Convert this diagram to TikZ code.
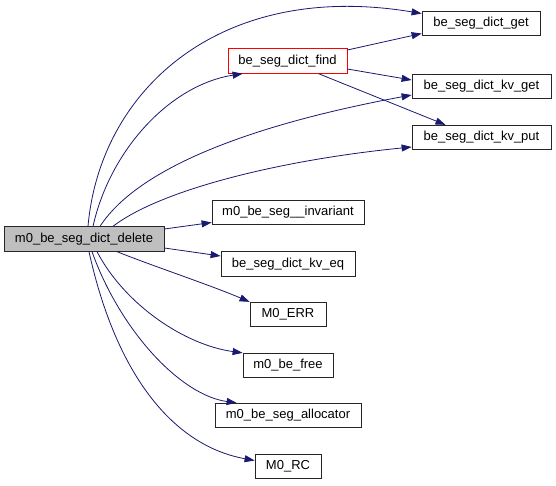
\documentclass[tikz,border=0pt]{standalone}
\usepackage{fontspec}
\setmainfont{Liberation Sans}
\usepackage{tikz}
\usetikzlibrary{arrows.meta, positioning, calc}
\definecolor{edgeblue}{RGB}{25,25,112}
\definecolor{boxgrey}{RGB}{191,191,191}

\begin{document}
\begin{tikzpicture}[x=1pt,y=-1pt,
	fn/.style={draw=black!85,fill=white,line width=0.8pt,minimum height=24.5pt,inner sep=0pt,font=\fontsize{13}{15}\selectfont},
	call/.style={draw=edgeblue,line width=0.8pt,-{Triangle[length=10pt,width=7pt,fill=edgeblue]}}]
	\useasboundingbox (0,0) rectangle (556,485);
	\node[fn,fill=boxgrey,minimum width=160pt] (del) at (84,239) {m0\_be\_seg\_dict\_delete};
	\node[fn,draw=red,minimum width=119pt] (find) at (287.5,61) {be\_seg\_dict\_find};
	\node[fn,minimum width=118pt] (get) at (481,23.5) {be\_seg\_dict\_get};
	\node[fn,minimum width=139pt] (kvget) at (481.5,86.5) {be\_seg\_dict\_kv\_get};
	\node[fn,minimum width=139pt] (kvput) at (481.5,137.5) {be\_seg\_dict\_kv\_put};
	\node[fn,minimum width=152pt] (inv) at (288,212.5) {m0\_be\_seg\_\_invariant};
	\node[fn,minimum width=134pt] (kveq) at (288,264) {be\_seg\_dict\_kv\_eq};
	\node[fn,minimum width=76pt] (err) at (288,314.5) {M0\_ERR};
	\node[fn,minimum width=90pt] (free) at (288,365.5) {m0\_be\_free};
	\node[fn,minimum width=146pt] (alloc) at (288,415.5) {m0\_be\_seg\_allocator};
	\node[fn,minimum width=66pt] (rc) at (288,466.5) {M0\_RC};
	\draw[call] ([xshift=4pt]del.north) .. controls (100,90) and (220,-20) .. ([yshift=10pt]get.west);
	\draw[call] ([xshift=9pt]del.north) .. controls (110,150) and (170,85) .. ([xshift=15pt]find.south west);
	\draw[call] ([xshift=16pt]del.north) .. controls (138,168) and (250,125) .. ([yshift=-8.5pt]kvget.west);
	\draw[call] ([xshift=29pt]del.north) .. controls (160,190) and (280,160) .. ([yshift=-9.5pt]kvput.west);
	\draw[call] ([yshift=10pt]del.east) -- ([yshift=-10pt]inv.west);
	\draw[call] ([yshift=-9pt]del.east) -- ([yshift=8pt]kveq.west);
	\draw[call] ([xshift=33pt]del.south) .. controls (150,265) and (210,285) .. (err.north west);
	\draw[call] ([xshift=13pt]del.south) .. controls (125,305) and (185,345) .. (free.north west);
	\draw[call] ([xshift=8pt]del.south) .. controls (120,330) and (180,395) .. ([xshift=22pt]alloc.north west);
	\draw[call] ([xshift=5pt]del.south) .. controls (115,370) and (170,445) .. ([yshift=6pt]rc.west);
	\draw[call] ([yshift=11pt]find.east) -- ([yshift=-10pt]get.west);
	\draw[call] ([yshift=-8pt]find.east) -- ([yshift=6.5pt]kvget.west);
	\draw[call] ([xshift=31pt]find.south) -- ([xshift=-36pt]kvput.north);
\end{tikzpicture}
\end{document}
